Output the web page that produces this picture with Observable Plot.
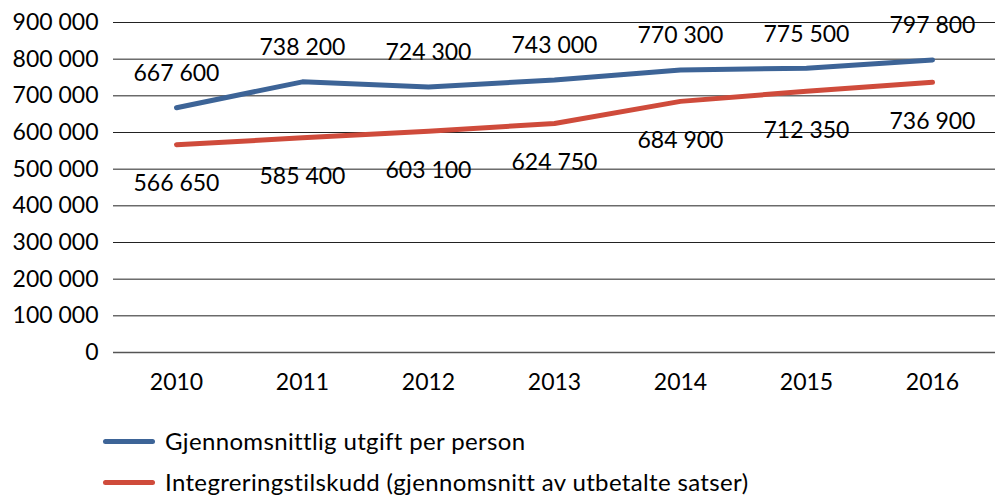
<!DOCTYPE html>
<html>
<head>
<meta charset="utf-8">
<script src="https://cdn.jsdelivr.net/npm/d3@7"></script>
<script src="https://cdn.jsdelivr.net/npm/@observablehq/plot@0.6"></script>
<style>
  html, body { margin: 0; padding: 0; background: #fff; }
  body { width: 995px; height: 497px; overflow: hidden; font-family: Lato, "Open Sans", sans-serif; }
  #legend { position: relative; height: 87px; }
  .item { position: absolute; left: 103px; display: flex; align-items: center; font-size: 24px; letter-spacing: 0.35px; line-height: 26px; color: #000; }
  .swatch { width: 52px; height: 5px; border-radius: 3px; margin-right: 10px; }
</style>
</head>
<body>
<div id="chart"></div>
<div id="legend"></div>
<script>
const years = ["2010", "2011", "2012", "2013", "2014", "2015", "2016"];
const utgift = [667600, 738200, 724300, 743000, 770300, 775500, 797800];
const tilskudd = [566650, 585400, 603100, 624750, 684900, 712350, 736900];
const seriesNames = ["Gjennomsnittlig utgift per person", "Integreringstilskudd (gjennomsnitt av utbetalte satser)"];
const seriesColors = ["#3d6497", "#cf4b3b"];
const yTicks = [0, 100000, 200000, 300000, 400000, 500000, 600000, 700000, 800000, 900000];

const fmt = d3.formatLocale({thousands: " ", grouping: [3], decimal: ",", currency: ["", ""]}).format(",");

const rowsA = years.map((y, i) => ({year: y, value: utgift[i]}));
const rowsB = years.map((y, i) => ({year: y, value: tilskudd[i]}));

const chart = Plot.plot({
  width: 995,
  height: 410,
  marginLeft: 113,
  marginRight: 0,
  marginTop: 22,
  marginBottom: 58,
  style: {fontFamily: "Lato, 'Open Sans', sans-serif", fontSize: "23px", color: "#000", background: "#fff"},
  x: {type: "point", domain: years, padding: 0.5, label: null},
  y: {domain: [0, 900000], label: null},
  marks: [
    Plot.ruleY(yTicks.slice(1), {stroke: "#222", strokeWidth: 1}),
    Plot.ruleY([0], {stroke: "#555", strokeWidth: 1.6}),
    Plot.axisY(yTicks, {tickSize: 0, tickPadding: 15, tickFormat: fmt, fontSize: 23, label: null}),
    Plot.axisX({tickSize: 0, tickPadding: 21, fontSize: 23, label: null}),
    Plot.line(rowsA, {x: "year", y: "value", stroke: seriesColors[0], strokeWidth: 5, strokeLinecap: "round", strokeLinejoin: "round"}),
    Plot.line(rowsB, {x: "year", y: "value", stroke: seriesColors[1], strokeWidth: 5, strokeLinecap: "round", strokeLinejoin: "round"}),
    Plot.text(rowsA, {x: "year", y: "value", text: d => fmt(d.value), dy: -34, fontSize: 23, fill: "#000"}),
    Plot.text(rowsB, {x: "year", y: "value", text: d => fmt(d.value), dy: 39, fontSize: 23, fill: "#000"})
  ]
});
document.getElementById("chart").appendChild(chart);

const legend = document.getElementById("legend");
const tops = [31 - 13, 72 - 13];
seriesNames.forEach((name, i) => {
  const item = document.createElement("div");
  item.className = "item";
  item.style.top = tops[i] + "px";
  item.style.height = "26px";
  const sw = document.createElement("div");
  sw.className = "swatch";
  sw.style.background = seriesColors[i];
  const t = document.createElement("span");
  t.textContent = name;
  item.appendChild(sw);
  item.appendChild(t);
  legend.appendChild(item);
});
</script>
</body>
</html>
